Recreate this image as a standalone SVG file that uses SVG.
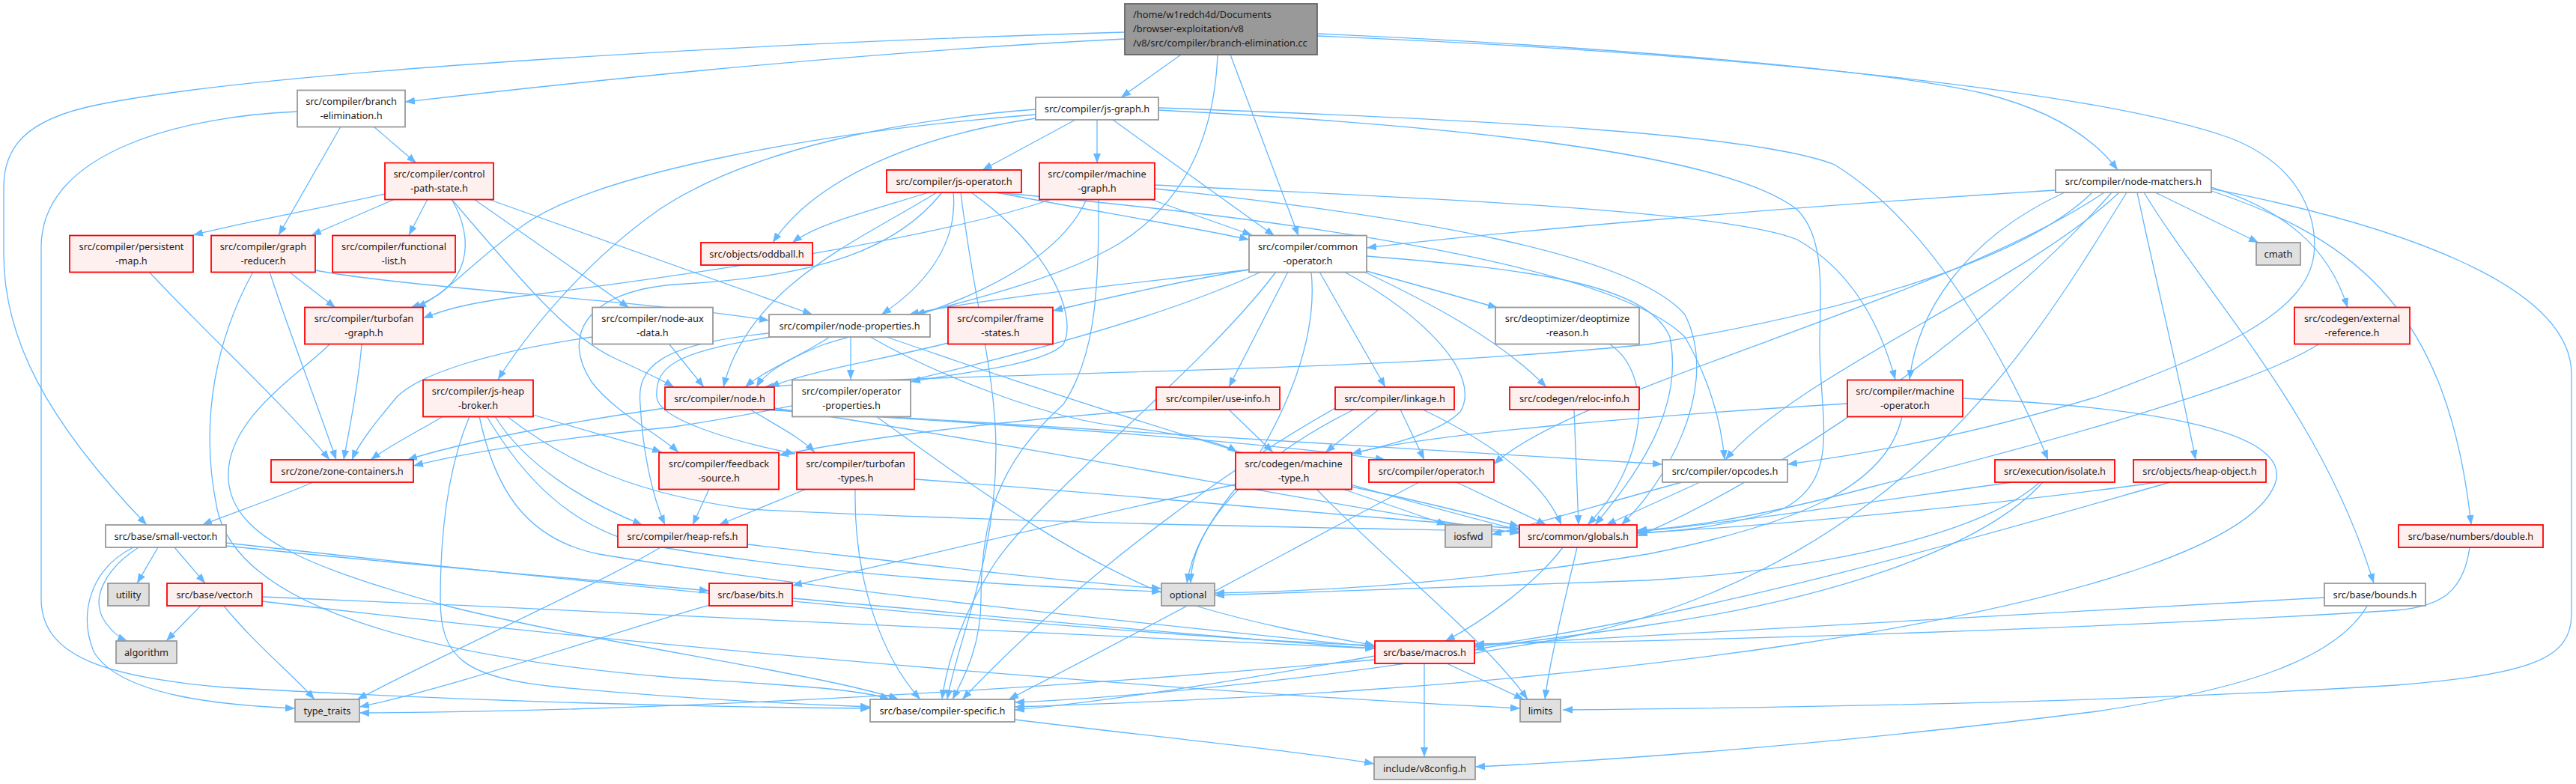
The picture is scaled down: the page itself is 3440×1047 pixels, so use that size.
<svg xmlns="http://www.w3.org/2000/svg" width="3440" height="1047" viewBox="0 0 3440 1047">
<style>
text{font-family:"Noto Sans","Open Sans",sans-serif;font-size:12.8px;fill:#1c1c1c;text-anchor:middle}
rect{stroke-width:1.8}
.r{fill:#fff0f0;stroke:#ff0000}
.w{fill:#ffffff;stroke:#999999}
.g{fill:#e0e0e0;stroke:#999999}
.root{fill:#999999;stroke:#666666}
.e path{fill:none;stroke:#63b8ff;stroke-width:1.3;marker-end:url(#a)}
</style>
<defs>
<marker id="a" markerWidth="13" markerHeight="10" refX="13" refY="5" orient="auto" markerUnits="userSpaceOnUse"><path d="M0,0 L13,5 L0,10 z" fill="#63b8ff"/></marker>
</defs>
<rect width="3440" height="1047" fill="#ffffff"/>
<g class="e" id="edges">
<path d="M1502,52 C1100,72 700,118 541,136"/>
<path d="M1502,43 C1000,58 350,95 130,140 C30,160 5,200 5,250 L5,340 C5,450 60,560 196,701"/>
<path d="M1577,73 L1497,130"/>
<path d="M1626,73 C1622,170 1590,265 1495,325 C1420,370 1300,400 1222,420"/>
<path d="M1643,73 L1734,315"/>
<path d="M1759,45 C2100,60 2500,90 2650,125 C2750,150 2800,190 2828,227"/>
<path d="M1759,48 C2300,70 2800,120 2980,185 C3080,225 3095,300 3090,340 C3080,420 2960,470 2800,530 C2600,590 2450,612 2387,620"/>
<path d="M499,169 L556,218"/>
<path d="M455,169 L372,314"/>
<path d="M397,149 C250,155 55,200 55,330 L55,800 C55,880 150,905 300,918 C600,935 900,944 1162,946"/>
<path d="M514,259 C420,280 310,300 258,314"/>
<path d="M527,266 L416,314"/>
<path d="M571,266 L546,314"/>
<path d="M603,266 C635,320 630,385 548,411"/>
<path d="M603,266 C700,380 760,450 820,478 C850,492 880,505 900,517"/>
<path d="M633,266 L840,411"/>
<path d="M652,266 L1085,420"/>
<path d="M199,363 C280,450 380,540 440,614"/>
<path d="M386,363 L448,411"/>
<path d="M360,363 C385,440 420,530 449,614"/>
<path d="M338,363 C290,450 265,560 290,680 C320,820 600,880 900,905 C1050,915 1150,920 1188,934"/>
<path d="M421,361 C550,385 850,400 1027,428"/>
<path d="M483,460 C478,520 465,580 459,614"/>
<path d="M440,460 C400,500 300,560 305,640 C310,720 420,760 600,810 C800,860 1100,900 1200,934"/>
<path d="M791,450 C650,470 560,500 530,530 C505,560 480,590 470,614"/>
<path d="M894,460 L940,517"/>
<path d="M1436,160 L1312,227"/>
<path d="M1465,160 L1465,218"/>
<path d="M1486,160 L1702,315"/>
<path d="M1383,146 C1200,160 1000,200 880,280 C780,350 700,450 665,507"/>
<path d="M1383,153 C1100,175 800,230 700,300 C630,350 600,390 556,411"/>
<path d="M1383,158 C1200,185 1080,250 1032,324"/>
<path d="M1547,147 C1900,165 2300,200 2400,280 C2440,320 2430,400 2430,460 C2430,560 2460,640 2380,680 C2300,705 2230,710 2187,712"/>
<path d="M1547,144 C2000,160 2350,180 2450,220 C2580,300 2680,480 2735,614"/>
<path d="M1240,257 C1150,285 1090,300 1058,324"/>
<path d="M1251,257 C1150,320 1000,380 966,517"/>
<path d="M1273,257 C1280,330 1230,385 1177,420"/>
<path d="M1297,257 C1400,330 1440,420 1420,460 C1390,490 1260,500 1216,510"/>
<path d="M1330,257 C1450,280 1600,305 1668,320"/>
<path d="M1330,257 C1700,290 2150,350 2250,450 C2290,520 2300,580 2303,614"/>
<path d="M1258,257 C1200,330 1100,370 900,380 C780,390 750,450 790,510 C820,550 880,580 906,604"/>
<path d="M1283,257 C1300,400 1330,500 1330,600 C1330,750 1280,850 1265,934"/>
<path d="M1404,266 C1250,320 900,370 700,395 C620,405 590,415 565,425"/>
<path d="M1451,266 C1400,380 1200,430 1100,460 C1050,480 1020,500 1010,517"/>
<path d="M1467,266 C1468,400 1460,480 1420,540 C1330,620 1310,700 1310,800 C1310,860 1290,900 1272,934"/>
<path d="M1536,266 L1672,314"/>
<path d="M1542,247 C1900,265 2300,280 2400,320 C2470,360 2510,430 2531,507"/>
<path d="M1542,252 C1900,290 2180,340 2250,420 C2300,520 2220,650 2165,701"/>
<path d="M2745,254 C2400,275 2000,310 1825,331"/>
<path d="M2757,257 C2620,320 2560,420 2550,507"/>
<path d="M2794,257 C2700,350 2450,420 2200,460 C1800,500 1300,495 1020,517"/>
<path d="M2878,257 L3016,324"/>
<path d="M2953,250 C3050,280 3110,330 3135,411"/>
<path d="M2854,257 C2880,380 2910,500 2932,614"/>
<path d="M2953,255 C3150,320 3270,420 3300,701"/>
<path d="M2863,257 C2950,400 3100,550 3170,779"/>
<path d="M2953,252 C3200,300 3434,380 3434,500 L3434,820 C3434,880 3380,900 3200,915 C2800,940 2300,946 2087,948"/>
<path d="M2840,257 C2720,450 2550,750 2100,850 C1800,905 1500,932 1355,938"/>
<path d="M2830,257 C2700,380 2400,500 2304,614"/>
<path d="M2810,257 C2600,400 2100,520 1995,620"/>
<path d="M2820,257 C2650,450 2350,650 2186,716"/>
<path d="M1668,360 C1500,380 1300,400 1214,420"/>
<path d="M1668,360 C1550,380 1450,405 1406,415"/>
<path d="M1684,363 C1500,450 1100,540 900,570 C700,590 600,610 552,622"/>
<path d="M1704,363 C1600,500 1400,650 1330,750 C1290,810 1265,880 1258,934"/>
<path d="M1720,363 L1641,517"/>
<path d="M1795,363 C1900,420 1980,500 1950,550 C1920,580 1850,595 1805,606"/>
<path d="M1751,363 C1760,450 1720,550 1660,640 C1610,700 1590,740 1590,779"/>
<path d="M1762,363 L1850,517"/>
<path d="M1822,363 C1900,400 2000,450 2065,517"/>
<path d="M1825,362 L2000,411"/>
<path d="M1825,342 C2050,360 2200,380 2230,450 C2250,550 2180,640 2130,701"/>
<path d="M2467,539 C2200,555 1900,580 1805,606"/>
<path d="M2540,556 C2520,650 2400,700 2200,740 C1950,780 1750,790 1622,792"/>
<path d="M2621,532 C2900,545 3050,580 3040,640 C3020,720 2800,800 2400,860 C2000,920 1600,936 1355,944"/>
<path d="M3096,460 C3000,520 2700,600 2500,650 C2350,690 2250,705 2186,708"/>
<path d="M2881,644 C2700,670 2400,700 2186,712"/>
<path d="M2898,644 C2700,700 2300,820 1969,864"/>
<path d="M2687,644 C2500,670 2300,700 2186,710"/>
<path d="M2724,644 C2650,710 2450,760 2200,775 C1950,785 1750,790 1622,795"/>
<path d="M2728,644 C2650,730 2450,800 2200,835 C2100,850 2000,860 1969,868"/>
<path d="M2246,644 C2150,670 2050,700 1992,714"/>
<path d="M2270,644 L2145,701"/>
<path d="M1945,644 L2065,701"/>
<path d="M1895,644 C1750,720 1550,830 1347,934"/>
<path d="M1650,647 C1450,690 1200,750 1058,782"/>
<path d="M1793,653 L1932,701"/>
<path d="M1805,650 C1900,670 1980,690 2029,703"/>
<path d="M1758,653 C1850,750 1980,850 2040,934"/>
<path d="M1841,547 L1770,604"/>
<path d="M1870,547 L1902,614"/>
<path d="M1900,547 C1990,590 2060,640 2085,701"/>
<path d="M1783,545 C1650,620 1450,760 1285,934"/>
<path d="M1808,547 C1700,600 1600,680 1585,779"/>
<path d="M2102,547 L2108,701"/>
<path d="M2150,460 C2210,500 2200,620 2120,701"/>
<path d="M1641,547 L1700,604"/>
<path d="M1544,547 C1350,560 1150,585 1040,608"/>
<path d="M1266,458 C1180,480 1080,495 1028,517"/>
<path d="M1108,450 C1070,475 1020,495 995,517"/>
<path d="M1136,450 L1136,507"/>
<path d="M1027,445 C880,460 850,490 855,540 C858,600 870,660 888,701"/>
<path d="M1030,450 C900,470 875,490 877,530 C878,560 980,590 1062,606"/>
<path d="M1162,450 C1250,500 1400,560 1500,570 C1580,580 1630,590 1652,604"/>
<path d="M1184,450 C1500,560 1800,650 2029,708"/>
<path d="M1170,556 C1300,650 1450,760 1600,810 C1700,840 1800,855 1836,862"/>
<path d="M1077,653 L960,701"/>
<path d="M1142,653 C1140,780 1180,880 1229,934"/>
<path d="M1221,640 C1500,660 1800,690 2029,706"/>
<path d="M947,653 L925,701"/>
<path d="M882,731 C800,780 600,870 477,934"/>
<path d="M998,727 C1200,750 1400,775 1551,786"/>
<path d="M947,808 C800,850 600,920 480,944"/>
<path d="M1058,799 C1300,820 1600,850 1836,866"/>
<path d="M418,644 C370,665 310,685 270,701"/>
<path d="M211,731 L183,779"/>
<path d="M233,731 L274,779"/>
<path d="M185,731 C140,760 120,800 140,830 C150,845 160,852 170,856"/>
<path d="M178,731 C120,760 105,820 125,870 C160,930 300,942 394,946"/>
<path d="M302,725 C800,780 1500,850 1836,862"/>
<path d="M302,729 C550,755 800,775 947,789"/>
<path d="M269,808 L222,856"/>
<path d="M298,808 C340,860 390,900 420,934"/>
<path d="M350,797 C900,820 1500,850 1836,866"/>
<path d="M350,803 C1000,880 1700,930 2030,946"/>
<path d="M1932,886 L2035,934"/>
<path d="M1902,886 L1902,1011"/>
<path d="M1836,876 C1700,900 1500,935 1355,948"/>
<path d="M1836,881 C1400,920 900,950 480,952"/>
<path d="M2087,731 C2050,780 1980,830 1930,856"/>
<path d="M2106,731 C2090,800 2070,880 2063,934"/>
<path d="M1355,961 C1550,985 1750,1005 1835,1020"/>
<path d="M3104,798 C2700,820 2200,850 1969,862"/>
<path d="M3162,808 C3120,880 3000,920 2800,950 C2400,1000 2100,1018 1970,1024"/>
<path d="M3298,731 C3290,790 3260,810 3200,815 C2800,840 2300,855 1969,860"/>
<path d="M592,556 C560,575 520,595 495,614"/>
<path d="M627,556 C600,620 588,700 588,800 C588,880 620,905 750,918 C900,932 1050,940 1162,944"/>
<path d="M640,556 C660,650 700,720 800,740 C1100,790 1600,840 1836,864"/>
<path d="M650,556 C700,640 760,700 850,725 C1100,770 1400,785 1551,790"/>
<path d="M661,556 C700,620 780,670 858,701"/>
<path d="M677,556 C760,620 850,660 1000,680 C1400,700 1800,705 2029,710"/>
<path d="M712,554 C780,575 840,590 884,604"/>
<path d="M888,545 C750,565 620,590 544,614"/>
<path d="M1002,547 C1040,570 1070,585 1088,604"/>
<path d="M1020,547 C1300,565 1650,585 1850,614"/>
<path d="M1030,547 C1400,570 1900,600 2220,620"/>
<path d="M1034,545 C1400,600 1800,680 2029,712"/>
</g>
<g id="n_root"><rect class="root" x="1502" y="5" width="257" height="68"/><text x="1513" y="23.5" style="text-anchor:start">/home/w1redch4d/Documents</text><text x="1513" y="42.5" style="text-anchor:start">/browser-exploitation/v8</text><text x="1513" y="61.5" style="text-anchor:start">/v8/src/compiler/branch-elimination.cc</text></g>
<g id="n_be"><rect class="w" x="397" y="120.5" width="144" height="49"/><text x="469" y="139.5">src/compiler/branch</text><text x="469" y="158.5">-elimination.h</text></g>
<g id="n_jsg"><rect class="w" x="1383" y="130" width="164" height="30"/><text x="1465" y="149.5">src/compiler/js-graph.h</text></g>
<g id="n_cps"><rect class="r" x="514" y="217.5" width="145" height="49"/><text x="586.5" y="236.5">src/compiler/control</text><text x="586.5" y="255.5">-path-state.h</text></g>
<g id="n_jso"><rect class="r" x="1184" y="227" width="180" height="30"/><text x="1274" y="246.5">src/compiler/js-operator.h</text></g>
<g id="n_mg"><rect class="r" x="1388" y="217.5" width="154" height="49"/><text x="1465" y="236.5">src/compiler/machine</text><text x="1465" y="255.5">-graph.h</text></g>
<g id="n_nm"><rect class="w" x="2745" y="227" width="208" height="30"/><text x="2849" y="246.5">src/compiler/node-matchers.h</text></g>
<g id="n_pm"><rect class="r" x="93" y="314.5" width="165" height="49"/><text x="175.5" y="333.5">src/compiler/persistent</text><text x="175.5" y="352.5">-map.h</text></g>
<g id="n_gr"><rect class="r" x="282" y="314.5" width="139" height="49"/><text x="351.5" y="333.5">src/compiler/graph</text><text x="351.5" y="352.5">-reducer.h</text></g>
<g id="n_fl"><rect class="r" x="444" y="314.5" width="164" height="49"/><text x="526" y="333.5">src/compiler/functional</text><text x="526" y="352.5">-list.h</text></g>
<g id="n_odd"><rect class="r" x="936" y="324" width="149" height="30"/><text x="1010.5" y="343.5">src/objects/oddball.h</text></g>
<g id="n_co"><rect class="w" x="1668" y="314.5" width="157" height="49"/><text x="1746.5" y="333.5">src/compiler/common</text><text x="1746.5" y="352.5">-operator.h</text></g>
<g id="n_cmath"><rect class="g" x="3013" y="324" width="59" height="30"/><text x="3042.5" y="343.5">cmath</text></g>
<g id="n_tg"><rect class="r" x="407" y="410.5" width="158" height="49"/><text x="486" y="429.5">src/compiler/turbofan</text><text x="486" y="448.5">-graph.h</text></g>
<g id="n_nad"><rect class="w" x="791" y="410.5" width="161" height="49"/><text x="871.5" y="429.5">src/compiler/node-aux</text><text x="871.5" y="448.5">-data.h</text></g>
<g id="n_np"><rect class="w" x="1027" y="420" width="215" height="30"/><text x="1134.5" y="439.5">src/compiler/node-properties.h</text></g>
<g id="n_fs"><rect class="r" x="1266" y="410.5" width="140" height="49"/><text x="1336" y="429.5">src/compiler/frame</text><text x="1336" y="448.5">-states.h</text></g>
<g id="n_dr"><rect class="w" x="1997" y="410.5" width="192" height="49"/><text x="2093" y="429.5">src/deoptimizer/deoptimize</text><text x="2093" y="448.5">-reason.h</text></g>
<g id="n_er"><rect class="r" x="3064" y="410.5" width="154" height="49"/><text x="3141" y="429.5">src/codegen/external</text><text x="3141" y="448.5">-reference.h</text></g>
<g id="n_jhb"><rect class="r" x="565" y="507.5" width="147" height="49"/><text x="638.5" y="526.5">src/compiler/js-heap</text><text x="638.5" y="545.5">-broker.h</text></g>
<g id="n_node"><rect class="r" x="888" y="517" width="146" height="30"/><text x="961" y="536.5">src/compiler/node.h</text></g>
<g id="n_op"><rect class="w" x="1058" y="507.5" width="158" height="49"/><text x="1137" y="526.5">src/compiler/operator</text><text x="1137" y="545.5">-properties.h</text></g>
<g id="n_ui"><rect class="r" x="1544" y="517" width="165" height="30"/><text x="1626.5" y="536.5">src/compiler/use-info.h</text></g>
<g id="n_lk"><rect class="r" x="1783" y="517" width="159" height="30"/><text x="1862.5" y="536.5">src/compiler/linkage.h</text></g>
<g id="n_ri"><rect class="r" x="2016" y="517" width="173" height="30"/><text x="2102.5" y="536.5">src/codegen/reloc-info.h</text></g>
<g id="n_mo"><rect class="r" x="2467" y="507.5" width="154" height="49"/><text x="2544" y="526.5">src/compiler/machine</text><text x="2544" y="545.5">-operator.h</text></g>
<g id="n_zc"><rect class="r" x="362" y="614" width="190" height="30"/><text x="457" y="633.5">src/zone/zone-containers.h</text></g>
<g id="n_fb"><rect class="r" x="880" y="604.5" width="160" height="49"/><text x="960" y="623.5">src/compiler/feedback</text><text x="960" y="642.5">-source.h</text></g>
<g id="n_tt"><rect class="r" x="1064" y="604.5" width="157" height="49"/><text x="1142.5" y="623.5">src/compiler/turbofan</text><text x="1142.5" y="642.5">-types.h</text></g>
<g id="n_mt"><rect class="r" x="1650" y="604.5" width="155" height="49"/><text x="1727.5" y="623.5">src/codegen/machine</text><text x="1727.5" y="642.5">-type.h</text></g>
<g id="n_opr"><rect class="r" x="1828" y="614" width="167" height="30"/><text x="1911.5" y="633.5">src/compiler/operator.h</text></g>
<g id="n_opc"><rect class="w" x="2220" y="614" width="167" height="30"/><text x="2303.5" y="633.5">src/compiler/opcodes.h</text></g>
<g id="n_iso"><rect class="r" x="2664" y="614" width="160" height="30"/><text x="2744" y="633.5">src/execution/isolate.h</text></g>
<g id="n_ho"><rect class="r" x="2849" y="614" width="177" height="30"/><text x="2937.5" y="633.5">src/objects/heap-object.h</text></g>
<g id="n_sv"><rect class="w" x="141" y="701" width="161" height="30"/><text x="221.5" y="720.5">src/base/small-vector.h</text></g>
<g id="n_hr"><rect class="r" x="825" y="701" width="173" height="30"/><text x="911.5" y="720.5">src/compiler/heap-refs.h</text></g>
<g id="n_iosfwd"><rect class="g" x="1930" y="701" width="62" height="30"/><text x="1961" y="720.5">iosfwd</text></g>
<g id="n_gl"><rect class="r" x="2029" y="701" width="157" height="30"/><text x="2107.5" y="720.5">src/common/globals.h</text></g>
<g id="n_dbl"><rect class="r" x="3203" y="701" width="193" height="30"/><text x="3299.5" y="720.5">src/base/numbers/double.h</text></g>
<g id="n_util"><rect class="g" x="144" y="779" width="55" height="30"/><text x="171.5" y="798.5">utility</text></g>
<g id="n_vec"><rect class="r" x="223" y="779" width="127" height="30"/><text x="286.5" y="798.5">src/base/vector.h</text></g>
<g id="n_bits"><rect class="r" x="947" y="779" width="111" height="30"/><text x="1002.5" y="798.5">src/base/bits.h</text></g>
<g id="n_opt"><rect class="g" x="1551" y="779" width="71" height="30"/><text x="1586.5" y="798.5">optional</text></g>
<g id="n_bounds"><rect class="w" x="3104" y="779" width="135" height="30"/><text x="3171.5" y="798.5">src/base/bounds.h</text></g>
<g id="n_alg"><rect class="g" x="155" y="856" width="81" height="30"/><text x="195.5" y="875.5">algorithm</text></g>
<g id="n_mac"><rect class="r" x="1836" y="856" width="133" height="30"/><text x="1902.5" y="875.5">src/base/macros.h</text></g>
<g id="n_tt2"><rect class="g" x="394" y="934" width="86" height="30"/><text x="437" y="953.5">type_traits</text></g>
<g id="n_cs"><rect class="w" x="1162" y="934" width="193" height="30"/><text x="1258.5" y="953.5">src/base/compiler-specific.h</text></g>
<g id="n_lim"><rect class="g" x="2030" y="934" width="54" height="30"/><text x="2057" y="953.5">limits</text></g>
<g id="n_v8c"><rect class="g" x="1835" y="1011" width="135" height="30"/><text x="1902.5" y="1030.5">include/v8config.h</text></g>
</svg>
